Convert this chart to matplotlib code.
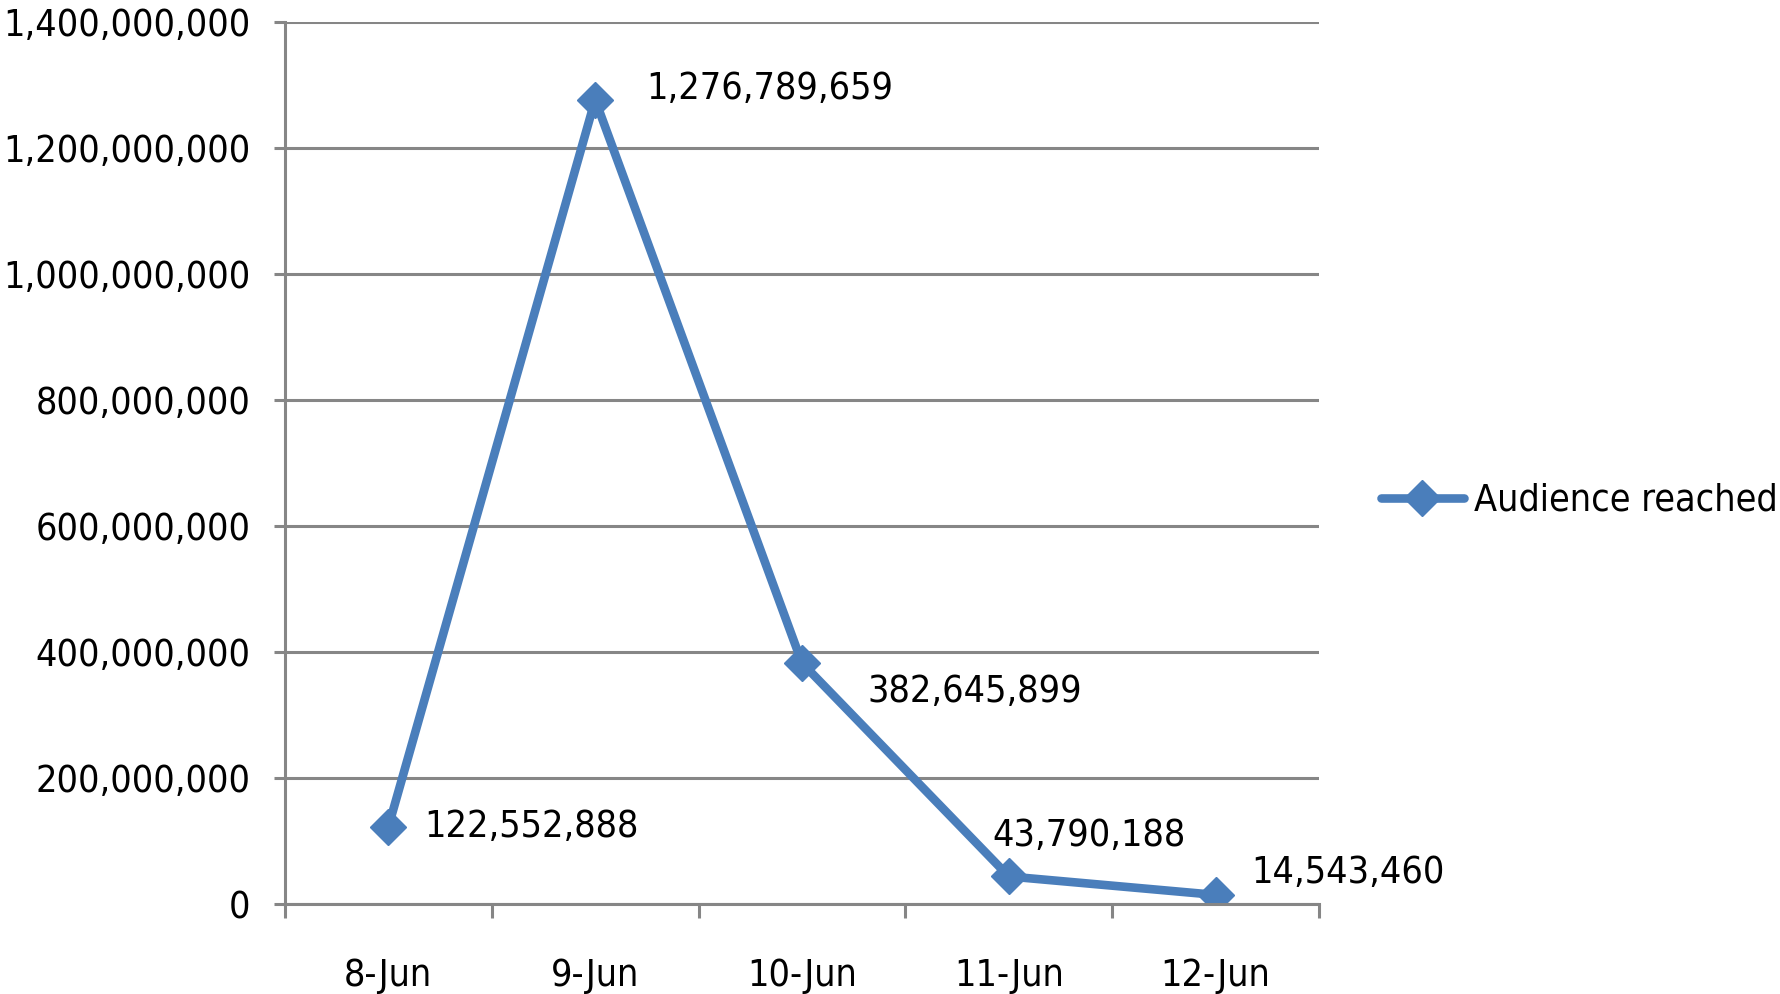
import matplotlib.pyplot as plt
from matplotlib import font_manager
import numpy as np

# pick a narrow-ish font close to Calibri
installed = font_manager.fontManager.ttflist
names = {f.name for f in installed}
stretch = 'normal'
if 'Liberation Sans Narrow' in names:
    family, fs = 'Liberation Sans Narrow', 29
elif any(f.name == 'DejaVu Sans' and 'Condensed' in f.fname for f in installed):
    family, fs, stretch = 'DejaVu Sans', 27, 'condensed'
else:
    family, fs = 'Roboto', 27
plt.rcParams['font.family'] = [family, 'DejaVu Sans']
plt.rcParams['font.stretch'] = stretch

days = ['8-Jun', '9-Jun', '10-Jun', '11-Jun', '12-Jun']
audience = [122552888, 1276789659, 382645899, 43790188, 14543460]
series_name = 'Audience reached'

blue = '#4A7EBB'
grey = '#868686'

fig = plt.figure(figsize=(17.81, 9.94), dpi=100)
ax = fig.add_axes([0.16, 0.0905, 0.5806, 0.8873])

x = np.arange(len(days))
ax.plot(x, audience, color=blue, lw=6.2, marker='D', markersize=18,
        solid_capstyle='round', solid_joinstyle='miter', label=series_name)

# data label offsets in points
offsets = [(26, 0), (37, 8), (47, -21), (-12, 29), (26, 16)]
for xi, v, off in zip(x, audience, offsets):
    ax.annotate(f'{v:,}', (xi, v), xytext=off, textcoords='offset points',
                fontsize=fs, ha='left', va='center')

ax.set_xlim(-0.5, len(days) - 0.5)
ax.set_ylim(0, 1400000000)
ax.set_yticks(np.arange(0, 1400000001, 200000000))
ax.yaxis.set_major_formatter(plt.FuncFormatter(lambda v, p: f'{int(v):,}'))
ax.set_xticks(x)
ax.set_xticklabels(days)
ax.set_xticks(np.arange(-0.5, len(days)), minor=True)

ax.grid(axis='y', color=grey, lw=2.2)
ax.set_axisbelow(True)
for s in ['top', 'right']:
    ax.spines[s].set_visible(False)
for s in ['left', 'bottom']:
    ax.spines[s].set_color(grey)
    ax.spines[s].set_linewidth(2.2)

ax.tick_params(axis='y', length=8, width=2.2, color=grey, labelsize=fs, pad=17)
ax.tick_params(axis='x', which='major', length=0, labelsize=fs, pad=39)
ax.tick_params(axis='x', which='minor', length=10, width=2.2, color=grey)

ax.legend(loc='center left', bbox_to_anchor=(1.06, 0.457), frameon=False,
          fontsize=fs, handlelength=2.2, handletextpad=0.27,
          borderpad=0, borderaxespad=0)

fig.savefig('out.png', dpi=100)
